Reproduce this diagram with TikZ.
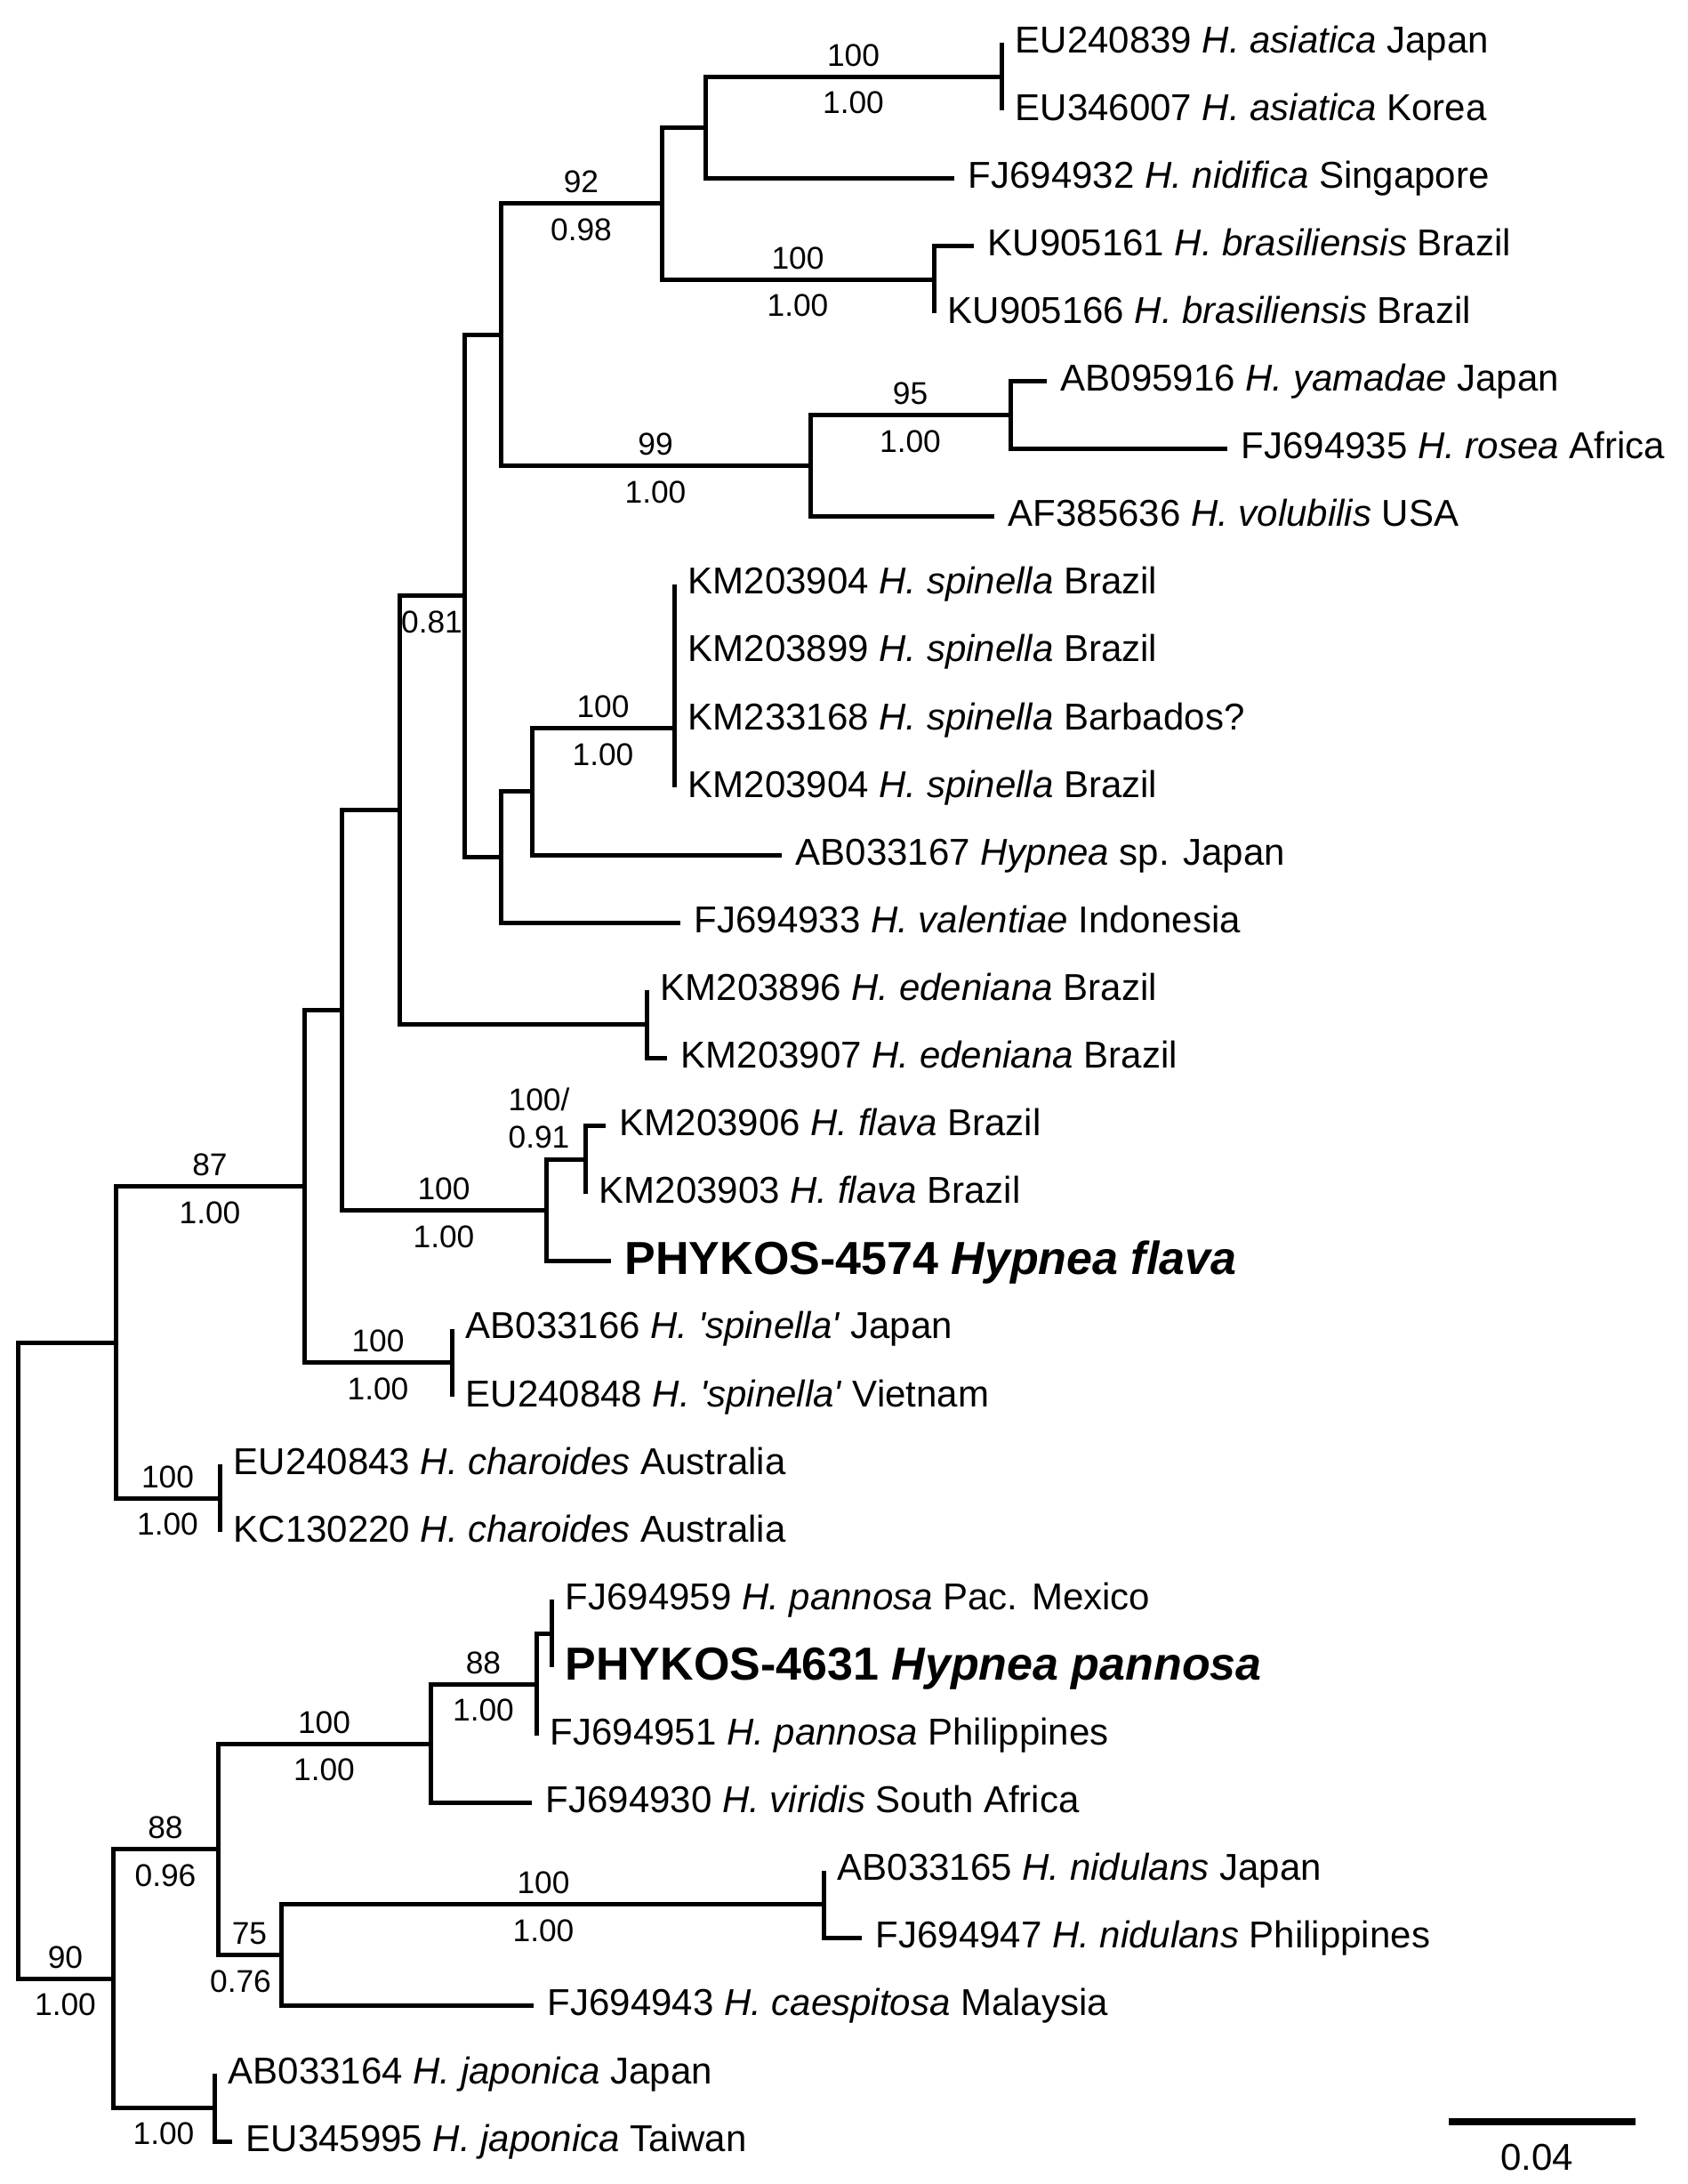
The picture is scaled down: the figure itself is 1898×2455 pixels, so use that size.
\documentclass[tikz,border=0pt]{standalone}
\usepackage{fontspec}
\setmainfont{Liberation Sans}
\begin{document}
\begin{tikzpicture}[x=0.3pt, y=-0.3pt,
  br/.style={line width=1.5pt},
  tip/.style={anchor=west, inner xsep=4.5pt, inner ysep=0pt, text height=9pt, text depth=2.4pt,
    font=\fontsize{12.6}{14}\selectfont},
  ours/.style={tip, text height=11pt, font=\fontsize{15.6}{18}\selectfont\bfseries},
  bs/.style={inner sep=0pt, font=\fontsize{10.6}{12}\selectfont},
  up/.style={bs, pos=.75, above=2.75pt},
  dn/.style={bs, pos=.75, below=4.3pt}]
  \useasboundingbox (0,0) rectangle (1898,2455);

  % leaves
  \node[tip] (eu240839) at (1126,48) {EU240839 \textit{H. asiatica} Japan};
  \node[tip] (eu346007) at (1126,124.1) {EU346007 \textit{H. asiatica} Korea};
  \node[tip] (fj694932) at (1073,200.2) {FJ694932 \textit{H. nidifica} Singapore};
  \node[tip] (ku905161) at (1095,276.3) {KU905161 \textit{H. brasiliensis} Brazil};
  \node[tip] (ku905166) at (1050,352.4) {KU905166 \textit{H. brasiliensis} Brazil};
  \node[tip] (ab095916) at (1177,428.5) {AB095916 \textit{H. yamadae} Japan};
  \node[tip] (fj694935) at (1380,504.6) {FJ694935 \textit{H. rosea} Africa};
  \node[tip] (af385636) at (1118,580.7) {AF385636 \textit{H. volubilis} USA};
  \node[tip] (km203904a) at (758,656.8) {KM203904 \textit{H. spinella} Brazil};
  \node[tip] (km203899) at (758,732.9) {KM203899 \textit{H. spinella} Brazil};
  \node[tip] (km233168) at (758,809) {KM233168 \textit{H. spinella} Barbados?};
  \node[tip] (km203904b) at (758,885.1) {KM203904 \textit{H. spinella} Brazil};
  \node[tip] (ab033167) at (879,961.2) {AB033167 \textit{Hypnea} sp. Japan};
  \node[tip] (fj694933) at (765,1037.3) {FJ694933 \textit{H. valentiae} Indonesia};
  \node[tip] (km203896) at (727,1113.4) {KM203896 \textit{H. edeniana} Brazil};
  \node[tip] (km203907) at (750,1189.5) {KM203907 \textit{H. edeniana} Brazil};
  \node[tip] (km203906) at (681,1265.6) {KM203906 \textit{H. flava} Brazil};
  \node[tip] (km203903) at (658,1341.7) {KM203903 \textit{H. flava} Brazil};
  \node[ours] (phy4574) at (687,1417.8) {PHYKOS-4574 \textit{Hypnea flava}};
  \node[tip] (ab033166) at (508,1493.9) {AB033166 \textit{H. \textquotesingle spinella\textquotesingle} Japan};
  \node[tip] (eu240848) at (508,1570) {EU240848 \textit{H. \textquotesingle spinella\textquotesingle} Vietnam};
  \node[tip] (eu240843) at (247,1646.1) {EU240843 \textit{H. charoides} Australia};
  \node[tip] (kc130220) at (247,1722.2) {KC130220 \textit{H. charoides} Australia};
  \node[tip] (fj694959) at (620,1798.3) {FJ694959 \textit{H. pannosa} Pac. Mexico};
  \node[ours] (phy4631) at (620,1874.4) {PHYKOS-4631 \textit{Hypnea pannosa}};
  \node[tip] (fj694951) at (603,1950.5) {FJ694951 \textit{H. pannosa} Philippines};
  \node[tip] (fj694930) at (598,2026.6) {FJ694930 \textit{H. viridis} South Africa};
  \node[tip] (ab033165) at (926,2102.7) {AB033165 \textit{H. nidulans} Japan};
  \node[tip] (fj694947) at (969,2178.8) {FJ694947 \textit{H. nidulans} Philippines};
  \node[tip] (fj694943) at (600,2254.9) {FJ694943 \textit{H. caespitosa} Malaysia};
  \node[tip] (ab033164) at (241,2331) {AB033164 \textit{H. japonica} Japan};
  \node[tip] (eu345995) at (261,2407.1) {EU345995 \textit{H. japonica} Taiwan};

  % internal nodes
  \coordinate (root) at (20,1866.5);
  \coordinate (nA) at (130,1509);    \coordinate (nB) at (127,2224);
  \coordinate (n87) at (342,1333.8); \coordinate (cha) at (247,1684.15);
  \coordinate (n384) at (384,1135.7); \coordinate (spq) at (508,1531.95);
  \coordinate (n449) at (449,910.7); \coordinate (flava) at (614,1360.7);
  \coordinate (flav2) at (658,1303.65);
  \coordinate (n081) at (522,669.9); \coordinate (eden) at (727,1151.45);
  \coordinate (top) at (563,376.15); \coordinate (vale) at (563,963.6);
  \coordinate (sp13) at (598,889.85); \coordinate (spin) at (758,818.5);
  \coordinate (n92) at (744,228.7);  \coordinate (n99) at (911,523.6);
  \coordinate (nidi) at (793,143.1); \coordinate (asia) at (1126,86.05);
  \coordinate (bras) at (1050,314.35); \coordinate (yama) at (1136,466.55);
  \coordinate (n88b) at (245,2078.9); \coordinate (japo) at (241,2369.05);
  \coordinate (viri) at (484,1960);  \coordinate (caes) at (316,2197.8);
  \coordinate (pan) at (603,1893.4); \coordinate (pan2) at (620,1836.35);
  \coordinate (nidu) at (926,2140.75);

  % backbone
  \draw[br] (root) |- (nA) (root) |- (nB) node[up]{90} node[dn]{1.00};
  \draw[br] (nA) |- (n87) node[up]{87} node[dn]{1.00} (nA) |- (cha) node[up]{100} node[dn]{1.00};
  \draw[br] (cha) -- (eu240843.west) (cha) -- (kc130220.west);
  \draw[br] (n87) |- (n384) (n87) |- (spq) node[up]{100} node[dn]{1.00};
  \draw[br] (spq) -- (ab033166.west) (spq) -- (eu240848.west);

  % flava
  \draw[br] (n384) |- (n449) (n384) |- (flava) node[up]{100} node[dn]{1.00};
  \draw[br] (flava) |- (flav2) (flava) |- (phy4574.west);
  \draw[br] (flav2) |- (km203906.west) (flav2) -- (km203903.west);
  \node[bs] (bsfl) at (606,1236) {100/};
  \node[bs] (ppfl) at (606,1278) {0.91};

  % edeniana, spinella, valentiae
  \draw[br] (n449) |- (n081) node[dn]{0.81} (n449) |- (eden);
  \draw[br] (eden) -- (km203896.west) (eden) |- (km203907.west);
  \draw[br] (n081) |- (top) (n081) |- (vale);
  \draw[br] (vale) |- (sp13) (vale) |- (fj694933.west);
  \draw[br] (sp13) |- (spin) node[up]{100} node[dn]{1.00} (sp13) |- (ab033167.west);
  \draw[br] (spin) -- (km203904a.west) (spin) -- (km203899.west)
    (spin) -- (km233168.west) (spin) -- (km203904b.west);

  % asiatica, brasiliensis, yamadae
  \draw[br] (top) |- (n92) node[up]{92} node[dn]{0.98} (top) |- (n99) node[up]{99} node[dn]{1.00};
  \draw[br] (n92) |- (nidi) (n92) |- (bras) node[up]{100} node[dn]{1.00};
  \draw[br] (nidi) |- (asia) node[up]{100} node[dn]{1.00} (nidi) |- (fj694932.west);
  \draw[br] (asia) -- (eu240839.west) (asia) -- (eu346007.west);
  \draw[br] (bras) |- (ku905161.west) (bras) -- (ku905166.west);
  \draw[br] (n99) |- (yama) node[up]{95} node[dn]{1.00} (n99) |- (af385636.west);
  \draw[br] (yama) |- (ab095916.west) (yama) |- (fj694935.west);

  % pannosa, nidulans, japonica
  \draw[br] (nB) |- (n88b) node[up]{88} node[dn]{0.96} (nB) |- (japo) node[dn]{1.00};
  \draw[br] (japo) -- (ab033164.west) (japo) |- (eu345995.west);
  \draw[br] (n88b) |- (viri) node[up]{100} node[dn]{1.00} (n88b) |- (caes) node[up]{75} node[dn, xshift=-3pt]{0.76};
  \draw[br] (viri) |- (pan) node[up]{88} node[dn]{1.00} (viri) |- (fj694930.west);
  \draw[br] (pan) |- (pan2) (pan) -- (fj694951.west);
  \draw[br] (pan2) -- (fj694959.west) (pan2) -- (phy4631.west);
  \draw[br] (caes) |- (nidu) node[up, xshift=-3pt]{100} node[dn, xshift=-3pt]{1.00} (caes) |- (fj694943.west);
  \draw[br] (nidu) -- (ab033165.west) (nidu) |- (fj694947.west);

  % scale bar
  \coordinate (sbl) at (1629,2385); \coordinate (sbr) at (1839,2385);
  \draw[line width=2.3pt] (sbl) -- (sbr);
  \node[font=\fontsize{12.6}{14}\selectfont, inner sep=0pt] (sblab) at (1728,2425) {0.04};
\end{tikzpicture}
\end{document}
